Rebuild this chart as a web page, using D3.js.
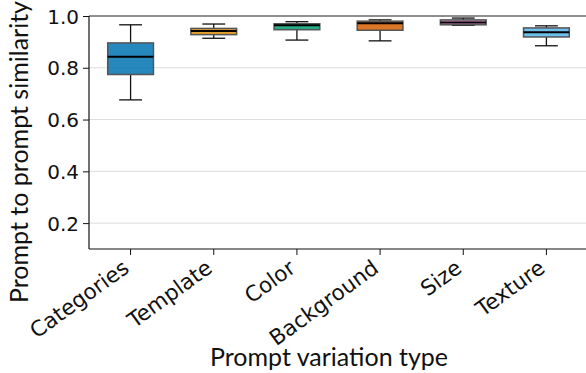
<!DOCTYPE html>
<html>
<head>
<meta charset="utf-8">
<script src="https://cdn.jsdelivr.net/npm/d3@7"></script>
<style>
  body { margin: 0; background: #fff; }
  svg { display: block; }
</style>
</head>
<body>
<svg id="chart"></svg>
<script>
const categories = ["Categories", "Template", "Color", "Background", "Size", "Texture"]
const whiskerLow  = [0.676, 0.914, 0.907, 0.904, 0.964, 0.885]
const q1          = [0.774, 0.928, 0.947, 0.945, 0.966, 0.919]
const median      = [0.843, 0.942, 0.964, 0.972, 0.975, 0.937]
const q3          = [0.896, 0.952, 0.970, 0.980, 0.985, 0.954]
const whiskerHigh = [0.966, 0.969, 0.978, 0.985, 0.992, 0.962]
const colors = ["#0173b2", "#de8f05", "#029e73", "#d55e00", "#cc78bc", "#56b4e9"]
const yTicks = [0.2, 0.4, 0.6, 0.8, 1.0]

const W = 586, H = 373
const margin = { top: 16, right: -2, bottom: 124, left: 89 }
const width = W - margin.left - margin.right
const height = H - margin.top - margin.bottom

const svg = d3.select('#chart').attr('width', W).attr('height', H)
const chart = svg.append('g').attr('transform', `translate(${margin.left}, ${margin.top})`)

const xScale = d3.scaleBand().domain(categories).range([0, width]).padding(0)
const yScale = d3.scaleLinear().domain([0.1, 1.0]).range([height, 0])

// grid
chart.append('g').selectAll('line')
    .data(yTicks)
    .join('line')
        .attr('x1', 0).attr('x2', width)
        .attr('y1', d => yScale(d)).attr('y2', d => yScale(d))
        .attr('stroke', '#dcdcdc').attr('stroke-width', 1)

const boxes = categories.map((c, i) => ({
    cat: c, lo: whiskerLow[i], q1: q1[i], med: median[i], q3: q3[i], hi: whiskerHigh[i], color: colors[i]
}))

const boxW = xScale.bandwidth() * 0.55
const capW = boxW * 0.5

const g = chart.selectAll('.box')
    .data(boxes)
    .join('g')
        .attr('class', 'box')
        .attr('transform', d => `translate(${xScale(d.cat) + xScale.bandwidth() / 2}, 0)`)

g.append('line')
    .attr('x1', 0).attr('x2', 0)
    .attr('y1', d => yScale(d.lo)).attr('y2', d => yScale(d.q1))
    .attr('stroke', '#111').attr('stroke-width', 1.3)
g.append('line')
    .attr('x1', 0).attr('x2', 0)
    .attr('y1', d => yScale(d.q3)).attr('y2', d => yScale(d.hi))
    .attr('stroke', '#111').attr('stroke-width', 1.3)
g.append('line')
    .attr('x1', -capW / 2).attr('x2', capW / 2)
    .attr('y1', d => yScale(d.lo)).attr('y2', d => yScale(d.lo))
    .attr('stroke', '#111').attr('stroke-width', 1.3)
g.append('line')
    .attr('x1', -capW / 2).attr('x2', capW / 2)
    .attr('y1', d => yScale(d.hi)).attr('y2', d => yScale(d.hi))
    .attr('stroke', '#111').attr('stroke-width', 1.3)

g.append('rect')
    .attr('x', -boxW / 2)
    .attr('width', boxW)
    .attr('y', d => yScale(d.q3))
    .attr('height', d => yScale(d.q1) - yScale(d.q3))
    .attr('fill', d => d.color)
    .attr('fill-opacity', 0.85)
    .attr('stroke', '#555')
    .attr('stroke-width', 1.5)

g.append('line')
    .attr('x1', -boxW / 2).attr('x2', boxW / 2)
    .attr('y1', d => yScale(d.med)).attr('y2', d => yScale(d.med))
    .attr('stroke', '#000').attr('stroke-width', 2)

// spines
chart.append('line').attr('x1', 0).attr('x2', width).attr('y1', 0).attr('y2', 0)
    .attr('stroke', '#333').attr('stroke-width', 1.2)

const yAxis = d3.axisLeft(yScale).tickValues(yTicks).tickFormat(d3.format('.1f')).tickSize(6).tickPadding(4)
const xAxis = d3.axisBottom(xScale).tickSize(6).tickPadding(4)

const yAxisGroup = chart.append('g').attr('class', 'axis y-axis').call(yAxis)
yAxisGroup.select('.domain').attr('d', `M0,0V${height}`)

const xAxisGroup = chart.append('g').attr('class', 'axis x-axis')
    .attr('transform', `translate(0, ${height})`)
    .call(xAxis)
xAxisGroup.select('.domain').attr('d', `M0,0H${width}`)

chart.selectAll('.axis .domain').attr('stroke', '#111').attr('stroke-width', 1.2)
chart.selectAll('.axis .tick line').attr('stroke', '#111').attr('stroke-width', 1)
chart.selectAll('.axis text')
    .attr('font-family', 'DejaVu Sans')
    .attr('font-size', 20)
    .attr('fill', '#111')

yAxisGroup.selectAll('.tick text').attr('dy', '0.36em')

xAxisGroup.selectAll('.tick text')
    .attr('text-anchor', 'end')
    .attr('dy', null)
    .attr('y', 0)
    .attr('font-size', 21.5)
    .attr('transform', 'translate(0, 22) rotate(-36)')

svg.append('text')
    .attr('x', 329).attr('y', 366)
    .attr('text-anchor', 'middle')
    .attr('font-family', 'Lato')
    .attr('font-size', 25)
    .attr('fill', '#111')
    .text('Prompt variation type')

svg.append('text')
    .attr('transform', 'translate(28, 152) rotate(-90)')
    .attr('text-anchor', 'middle')
    .attr('font-family', 'Lato')
    .attr('font-size', 25)
    .attr('fill', '#111')
    .text('Prompt to prompt similarity')
</script>
</body>
</html>
